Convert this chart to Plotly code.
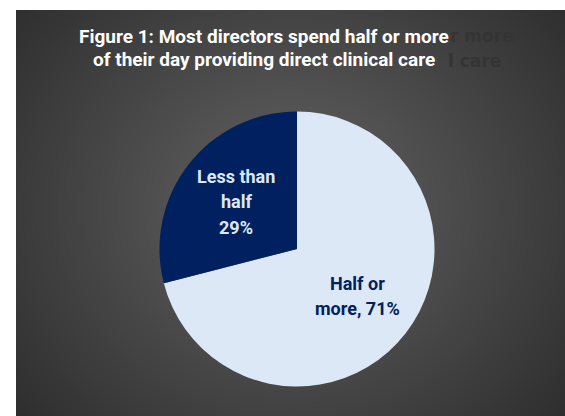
import base64, struct, zlib, math
import numpy as np
import plotly.graph_objects as go

# ---- data ----
labels = ["Half or more", "Less than half"]
values = [71, 29]
label_lines = [["Half or", "more, 71%"], ["Less than", "half", "29%"]]
title_lines = ["Figure 1: Most directors spend half or more",
               "of their day providing direct clinical care"]
ghost_tails = ["r more", "l care"]   # visible part of the title's offset shadow
colors = ["#DCE8F6", "#002060"]
text_colors = ["#002060", "#DCE8F6"]

W, H = 565, 416
BX0, BY0 = 16, 10  # dark panel top-left (px)

# ---- radial gradient background as PNG ----
bw, bh = W - BX0, H - BY0
yy, xx = np.mgrid[0:bh, 0:bw]
cx, cy = bw / 2, bh / 2 - 5
d = np.sqrt((xx - cx) ** 2 + ((yy - cy) * 1.1) ** 2)
g = np.clip(100 - 0.15 * d, 38, 110).astype(np.uint8)

def png_gray(a):
    h, w = a.shape
    raw = b"".join(b"\x00" + a[i].tobytes() for i in range(h))
    def chunk(t, dat):
        c = struct.pack(">I", len(dat)) + t + dat
        return c + struct.pack(">I", zlib.crc32(t + dat) & 0xffffffff)
    return (b"\x89PNG\r\n\x1a\n" + chunk(b"IHDR", struct.pack(">IIBBBBB", w, h, 8, 0, 0, 0, 0))
            + chunk(b"IDAT", zlib.compress(raw, 9)) + chunk(b"IEND", b""))

src = "data:image/png;base64," + base64.b64encode(png_gray(g)).decode()

# ---- pie geometry ----
PCX, PCY, R = 297, 249, 137.5
dom_x = [(PCX - R) / W, (PCX + R) / W]
dom_y = [(H - PCY - R) / H, (H - PCY + R) / H]

fig = go.Figure(go.Pie(
    labels=labels, values=values, sort=False, direction="clockwise", rotation=0,
    marker=dict(colors=colors, line=dict(width=0)),
    textinfo="none", hoverinfo="skip", showlegend=False,
    domain=dict(x=dom_x, y=dom_y),
))

ann = []
# ghost (shadow) title fragments
ghost_right = [516, 503]
for i, t in enumerate(ghost_tails):
    ann.append(dict(text="<b>" + t + "</b>", x=ghost_right[i] / W, y=1 - (36 + 25 * i) / H,
                    xref="paper", yref="paper", xanchor="right", yanchor="middle", showarrow=False,
                    font=dict(family="DejaVu Sans", size=17, color="#343434")))
# title
for i, t in enumerate(title_lines):
    ann.append(dict(text="<b>" + t + "</b>", x=264 / W, y=1 - (36 + 24 * i) / H, xref="paper", yref="paper",
                    xanchor="center", yanchor="middle", showarrow=False,
                    font=dict(family="Roboto", size=19, color="#FFFFFF")))

# slice labels positioned at mid-angle of each slice
total = sum(values)
start = 90.0
for v, lines, tc in zip(values, label_lines, text_colors):
    frac = v / total
    mid = math.radians(start - frac * 180)
    start -= frac * 360
    lx = PCX + 0.56 * R * math.cos(mid)
    ly = PCY - 0.56 * R * math.sin(mid)
    n = len(lines)
    for j, ln in enumerate(lines):
        py = ly + (j - (n - 1) / 2) * 25.5
        ann.append(dict(text="<b>" + ln + "</b>", x=lx / W, y=1 - py / H, xref="paper", yref="paper",
                        xanchor="center", yanchor="middle", showarrow=False,
                        font=dict(family="Roboto", size=18, color=tc)))

fig.update_layout(
    width=W, height=H, autosize=False,
    margin=dict(l=0, r=0, t=0, b=0),
    paper_bgcolor="#FFFFFF", plot_bgcolor="#FFFFFF",
    images=[dict(source=src, xref="paper", yref="paper", x=BX0 / W, y=1 - BY0 / H,
                 sizex=bw / W, sizey=bh / H, xanchor="left", yanchor="top",
                 sizing="stretch", layer="below")],
    annotations=ann,
)
fig.write_html("out.html")
